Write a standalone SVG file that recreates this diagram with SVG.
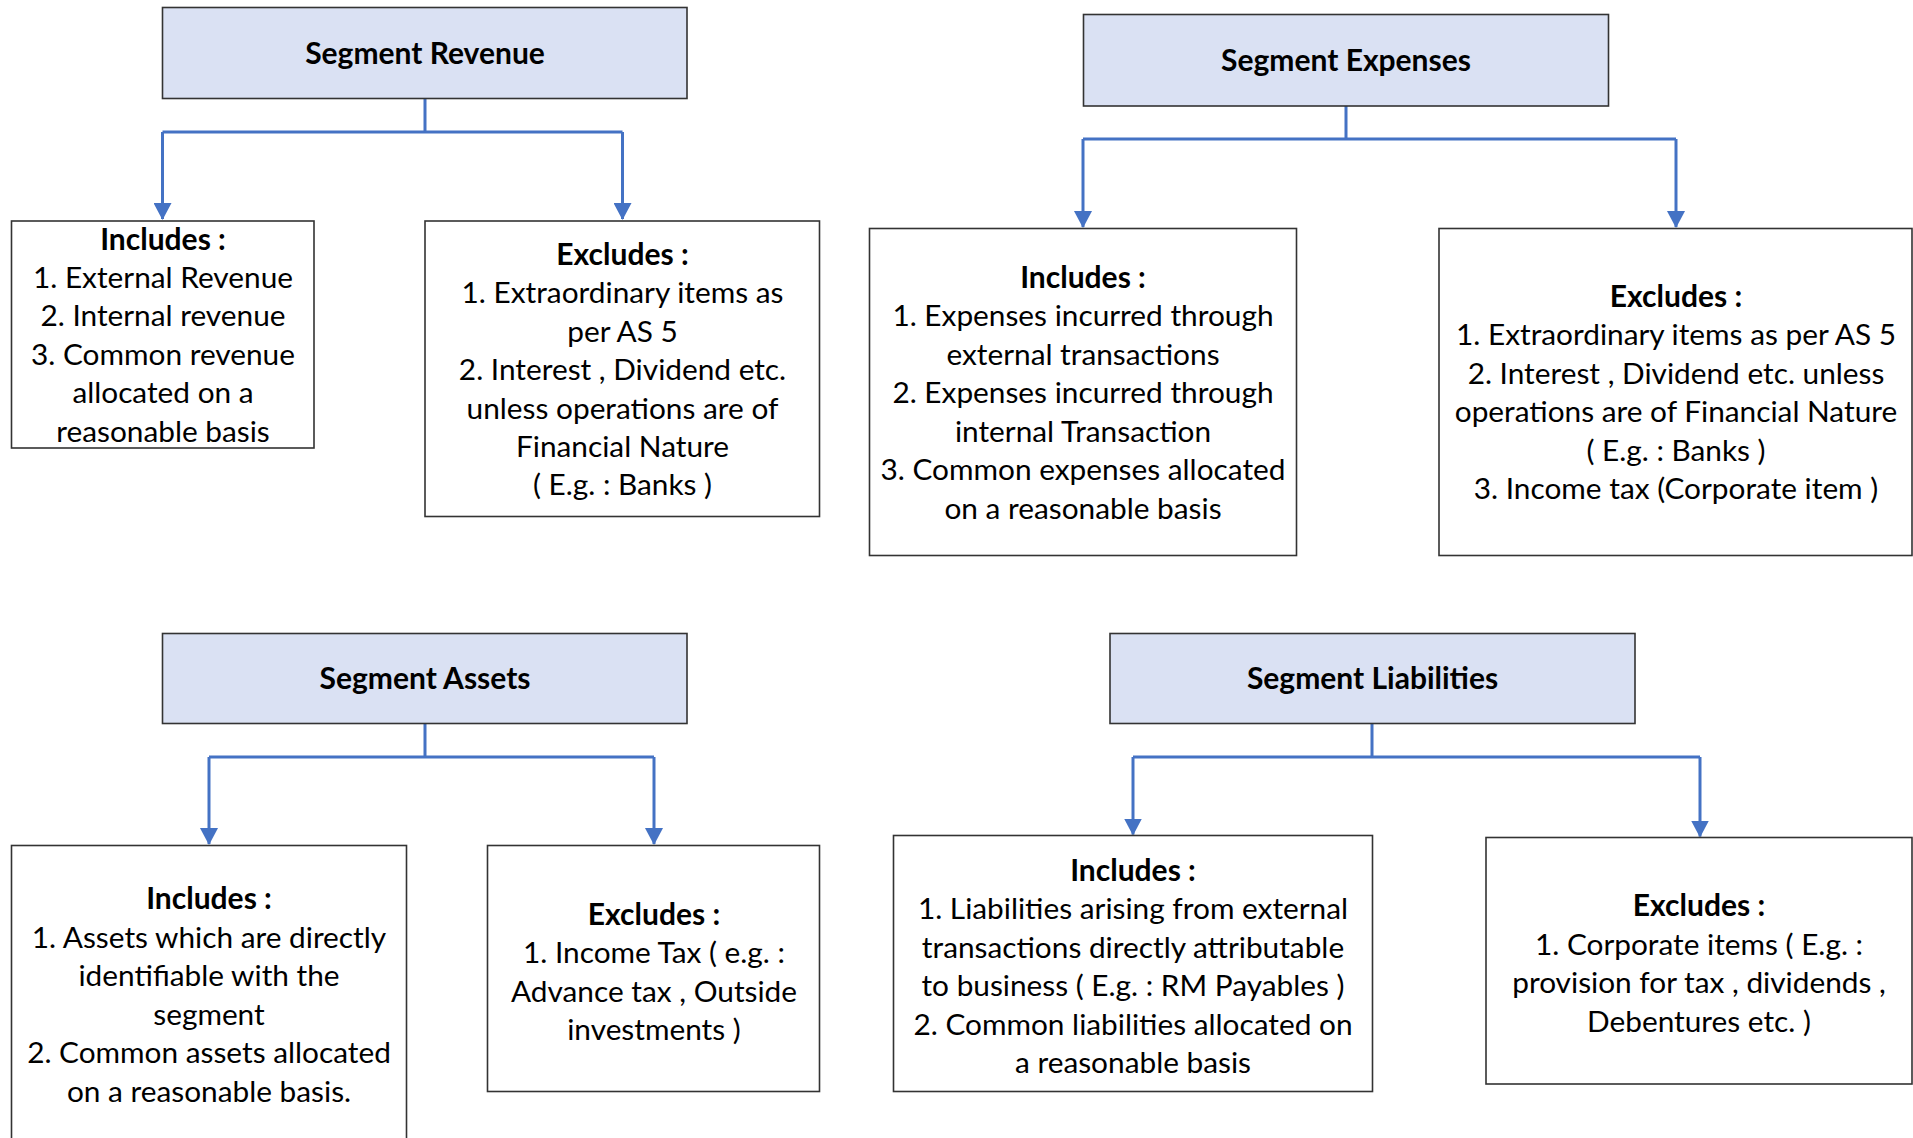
<svg xmlns="http://www.w3.org/2000/svg" width="1913" height="1138" viewBox="0 0 1913 1138">
  <defs>
    <!-- arrowhead drawn along +x so it follows the line direction -->
    <marker id="arrow" viewBox="0 0 17 18" refX="16" refY="9" markerWidth="17" markerHeight="18" markerUnits="userSpaceOnUse" orient="auto">
      <path d="M0,0 L17,9 L0,18 Z" fill="#4472C4"/>
    </marker>
    <style>
      .hdr { fill: #DAE1F3; stroke: #333333; stroke-width: 1.6; }
      .box { fill: #FFFFFF; stroke: #333333; stroke-width: 1.6; }
      .conn { fill: none; stroke: #4472C4; stroke-width: 3; }
      text { font-family: Lato, "Liberation Sans", sans-serif; font-size: 29.8px; fill: #000000; text-anchor: middle; }
      .t { font-weight: bold; font-size: 30px; }
    </style>
  </defs>
  <rect width="1913" height="1138" fill="#FFFFFF"/>

  <!-- connectors: trunk from each heading, then a bar, then drops to the two boxes -->
  <g id="connectors">
    <path class="conn" d="M425,98 V132 M162.5,132 H622.5"/>
    <path class="conn" d="M162.5,132 V219" marker-end="url(#arrow)"/>
    <path class="conn" d="M622.5,132 V219" marker-end="url(#arrow)"/>

    <path class="conn" d="M1346,106 V139 M1083,139 H1676"/>
    <path class="conn" d="M1083,139 V227" marker-end="url(#arrow)"/>
    <path class="conn" d="M1676,139 V227" marker-end="url(#arrow)"/>

    <path class="conn" d="M425,723 V757 M209,757 H654"/>
    <path class="conn" d="M209,757 V844" marker-end="url(#arrow)"/>
    <path class="conn" d="M654,757 V844" marker-end="url(#arrow)"/>

    <path class="conn" d="M1372,723 V757 M1133,757 H1700"/>
    <path class="conn" d="M1133,757 V834.5" marker-end="url(#arrow)"/>
    <path class="conn" d="M1700,757 V836.5" marker-end="url(#arrow)"/>
  </g>

  <!-- Segment Revenue -->
  <g id="revenue">
    <rect class="hdr" x="162.5" y="7.5" width="524.5" height="91"/>
    <text class="t" x="425" y="64">Segment Revenue</text>
  </g>
  <g id="revenue-includes">
    <rect class="box" x="11.5" y="221" width="302.5" height="227"/>
    <text x="163" y="249.5" class="t">Includes :</text>
    <text x="163" y="287.5">1. External Revenue</text>
    <text x="163" y="326">2. Internal revenue</text>
    <text x="163" y="364.5">3. Common revenue</text>
    <text x="163" y="403">allocated on a</text>
    <text x="163" y="441.5">reasonable basis</text>
  </g>
  <g id="revenue-excludes">
    <rect class="box" x="425" y="221" width="394.5" height="295.5"/>
    <text x="622.5" y="264.5" class="t">Excludes :</text>
    <text x="622.5" y="303">1. Extraordinary items as</text>
    <text x="622.5" y="341.5">per AS 5</text>
    <text x="622.5" y="380">2. Interest , Dividend etc.</text>
    <text x="622.5" y="418.5">unless operations are of</text>
    <text x="622.5" y="456.5">Financial Nature</text>
    <text x="622.5" y="495">( E.g. : Banks )</text>
  </g>

  <!-- Segment Expenses -->
  <g id="expenses">
    <rect class="hdr" x="1083.5" y="14.5" width="525" height="91.5"/>
    <text class="t" x="1346" y="71">Segment Expenses</text>
  </g>
  <g id="expenses-includes">
    <rect class="box" x="869.5" y="228.5" width="427" height="327"/>
    <text x="1083" y="287.5" class="t">Includes :</text>
    <text x="1083" y="326">1. Expenses incurred through</text>
    <text x="1083" y="364.5">external transactions</text>
    <text x="1083" y="403">2. Expenses incurred through</text>
    <text x="1083" y="441.5">internal Transaction</text>
    <text x="1083" y="480">3. Common expenses allocated</text>
    <text x="1083" y="518.5">on a reasonable basis</text>
  </g>
  <g id="expenses-excludes">
    <rect class="box" x="1439" y="228.5" width="473" height="327"/>
    <text x="1676" y="306.7" class="t">Excludes :</text>
    <text x="1676" y="345.2">1. Extraordinary items as per AS 5</text>
    <text x="1676" y="383.7">2. Interest , Dividend etc. unless</text>
    <text x="1676" y="422.2">operations are of Financial Nature</text>
    <text x="1676" y="460.7">( E.g. : Banks )</text>
    <text x="1676" y="499.2">3. Income tax (Corporate item )</text>
  </g>

  <!-- Segment Assets -->
  <g id="assets">
    <rect class="hdr" x="162.5" y="633.5" width="524.5" height="90"/>
    <text class="t" x="425" y="689">Segment Assets</text>
  </g>
  <g id="assets-includes">
    <rect class="box" x="11.5" y="845.5" width="395" height="320"/>
    <text x="209" y="909" class="t">Includes :</text>
    <text x="209" y="947.5">1. Assets which are directly</text>
    <text x="209" y="986">identifiable with the</text>
    <text x="209" y="1024.5">segment</text>
    <text x="209" y="1063">2. Common assets allocated</text>
    <text x="209" y="1101.5">on a reasonable basis.</text>
  </g>
  <g id="assets-excludes">
    <rect class="box" x="487.5" y="845.5" width="332" height="246"/>
    <text x="654" y="924.5" class="t">Excludes :</text>
    <text x="654" y="963">1. Income Tax ( e.g. :</text>
    <text x="654" y="1001.5">Advance tax , Outside</text>
    <text x="654" y="1040">investments )</text>
  </g>

  <!-- Segment Liabilities -->
  <g id="liabilities">
    <rect class="hdr" x="1110" y="633.5" width="525" height="90"/>
    <text class="t" x="1372.5" y="689">Segment Liabilities</text>
  </g>
  <g id="liabilities-includes">
    <rect class="box" x="893.5" y="835.5" width="479" height="256"/>
    <text x="1133" y="880.5" class="t">Includes :</text>
    <text x="1133" y="919">1. Liabilities arising from external</text>
    <text x="1133" y="957.5">transactions directly attributable</text>
    <text x="1133" y="996">to business ( E.g. : RM Payables )</text>
    <text x="1133" y="1034.5">2. Common liabilities allocated on</text>
    <text x="1133" y="1073">a reasonable basis</text>
  </g>
  <g id="liabilities-excludes">
    <rect class="box" x="1486" y="837.5" width="426" height="246.5"/>
    <text x="1699" y="916" class="t">Excludes :</text>
    <text x="1699" y="954.5">1. Corporate items ( E.g. :</text>
    <text x="1699" y="993">provision for tax , dividends ,</text>
    <text x="1699" y="1031.5">Debentures etc. )</text>
  </g>
</svg>
